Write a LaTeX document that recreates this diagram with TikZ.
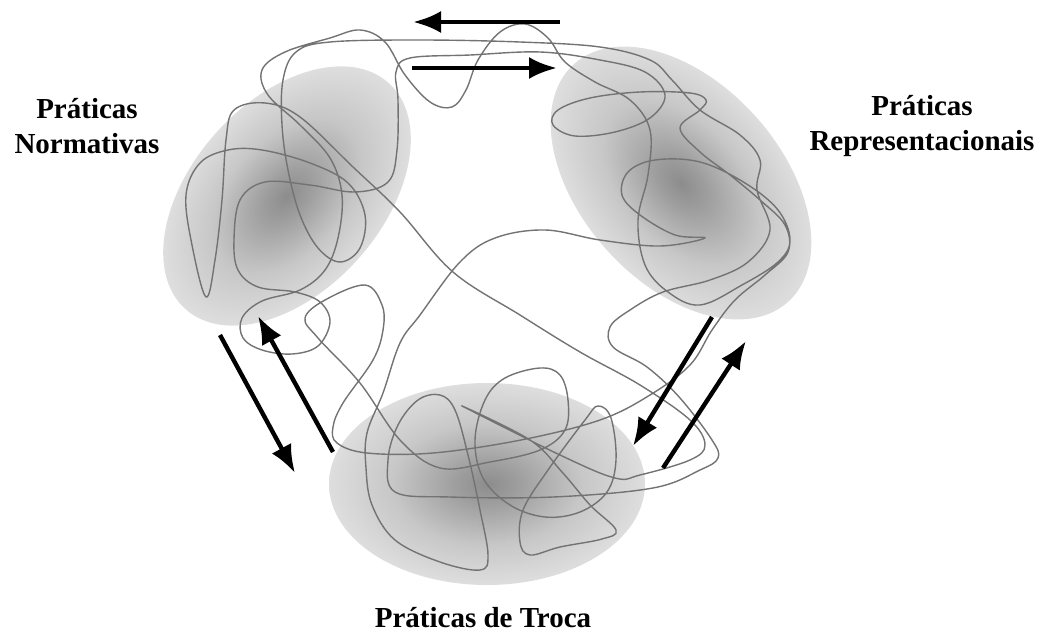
\documentclass[tikz,border=0pt]{standalone}
\usepackage{fontspec}
\setmainfont{Liberation Serif}
\usetikzlibrary{arrows.meta}
% soft grey cloud: dark core fading to a light rim
\pgfdeclareradialshading{blobshade}{\pgfpoint{0bp}{0bp}}{%
  rgb(0bp)=(0.55,0.55,0.55);
  rgb(5bp)=(0.62,0.62,0.62);
  rgb(15bp)=(0.78,0.78,0.78);
  rgb(25bp)=(0.87,0.87,0.87);
  rgb(50bp)=(0.87,0.87,0.87)}
\tikzset{
  blob/.style={shading=blobshade},
  thread/.style={draw=black!55, line width=1.4pt, line join=round},
  flow/.style={line width=4.4pt, -{Latex[length=28pt,width=22pt]}},
  lbl/.style={font=\fontsize{29}{35}\selectfont\bfseries, align=center, inner sep=0pt}
}
\begin{document}
\begin{tikzpicture}[x=1pt,y=-1pt]
\path[use as bounding box] (0,0) rectangle (1044,632);

% the three clouds of practices
\begin{scope}[transform canvas={shift={(287,196)},rotate=48}]
  \shade[blob] (0,0) ellipse [x radius=152pt, y radius=95pt];
\end{scope}
\begin{scope}[transform canvas={shift={(681,183)},rotate=-48}]
  \shade[blob] (0,0) ellipse [x radius=160pt, y radius=100pt];
\end{scope}
\begin{scope}[transform canvas={shift={(487,484)}}]
  \shade[blob] (0,0) ellipse [x radius=158pt, y radius=101pt];
\end{scope}

% one tangled thread running through all three clouds
\draw[thread] plot[smooth cycle, tension=0.6] coordinates {
 (330,322) (318,346) (292,354) (262,350) (243,338) (242,318) (262,301) (300,290)
 (325,270) (338,238) (342,195) (330,158) (300,125) (268,95) (262,70) (285,52)
 (330,38) (360,30) (385,42) (405,75) (430,102) (452,107) (466,90) (478,60)
 (500,32) (525,24) (548,38) (565,62) (595,82) (630,100) (650,130) (648,175)
 (638,220) (645,265) (668,292) (700,305) (742,285) (778,262) (790,240) (778,210)
 (745,183) (700,162) (655,160) (628,172) (622,195) (640,215) (675,235) (705,238)
 (660,246) (600,240) (545,230) (495,238) (460,262) (420,315) (400,343) (383,393)
 (367,433) (366,468) (372,505) (395,540) (440,562) (480,570) (488,555) (480,510)
 (468,455) (455,410) (440,395) (418,400) (398,425) (388,460) (395,492) (450,497)
 (553,497) (653,488) (700,470) (718,458) (712,440) (680,398) (647,367) (613,347)
 (610,327) (630,310) (663,292) (710,280) (748,262) (770,230) (757,190) (760,160)
 (740,135) (700,110) (672,80) (650,60) (600,47) (520,42) (420,40) (330,42)
 (296,52) (283,80) (282,125) (288,170) (300,215) (318,248) (340,262) (360,248)
 (365,215) (348,183) (310,163) (262,150) (228,150) (200,163) (186,195) (192,245)
 (206,297) (215,260) (222,200) (226,140) (234,110) (265,103) (300,117) (353,167)
 (400,212) (453,272) (520,315) (580,352) (640,385) (690,420) (705,445) (690,460)
 (640,475) (615,478) (560,455) (462,406) (530,440) (562,472) (590,505) (616,530)
 (602,539) (560,547) (530,555) (520,542) (523,510) (548,470) (585,420) (598,406)
 (611,418) (616,460) (607,492) (580,512) (545,517) (510,505) (483,478) (475,440)
 (485,400) (505,378) (540,368) (560,375) (568,400) (565,430) (540,450) (490,462)
 (440,468) (400,440) (360,383) (318,338) (305,318) (325,300) (365,285) (382,305)
 (383,330) (373,360) (343,403) (333,427) (337,443) (367,453) (433,453) (521,440)
 (600,420) (650,395) (690,365) (712,330) (735,300) (765,275) (788,252) (785,225)
 (760,200) (730,175) (700,152) (680,128) (700,110) (706,100) (690,93) (640,92)
 (590,98) (558,110) (553,125) (575,136) (615,132) (650,118) (665,95) (645,72)
 (600,60) (540,52) (470,55) (410,58) (396,72) (398,100) (397,150) (388,182)
 (355,192) (310,185) (265,182) (240,200) (234,240) (238,270) (258,287) (295,292)
 (320,302)
};

% labels (a multi-line node sits on the baseline of its last line)
\node[lbl, anchor=base] (normativas) at (87,153) {Práticas\\Normativas};
\node[lbl, anchor=base] (representacionais) at (922,150) {Práticas\\Representacionais};
\node[lbl, anchor=base] (troca) at (483,627) {Práticas de Troca};

% ends of the exchange arrows
\coordinate (topLtail) at (560,22);  \coordinate (topLhead) at (413,22);
\coordinate (topRtail) at (412,68);  \coordinate (topRhead) at (557,68);
\coordinate (lftDtail) at (220,335); \coordinate (lftDhead) at (295,473);
\coordinate (lftUtail) at (333,452); \coordinate (lftUhead) at (258,316);
\coordinate (rgtDtail) at (712,317); \coordinate (rgtDhead) at (633,446);
\coordinate (rgtUtail) at (663,468); \coordinate (rgtUhead) at (746,341);

\draw[flow] (topLtail) -- (topLhead);
\draw[flow] (topRtail) -- (topRhead);
\draw[flow] (lftDtail) -- (lftDhead);
\draw[flow] (lftUtail) -- (lftUhead);
\draw[flow] (rgtDtail) -- (rgtDhead);
\draw[flow] (rgtUtail) -- (rgtUhead);
\end{tikzpicture}
\end{document}
